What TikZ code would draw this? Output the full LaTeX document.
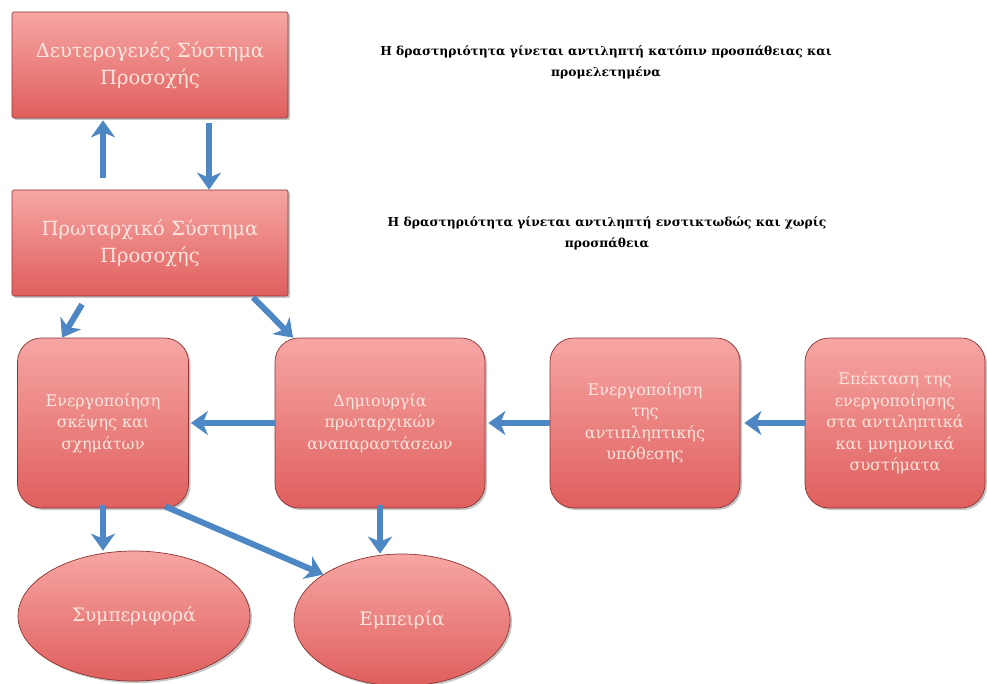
\documentclass[tikz,border=0pt]{standalone}
\usepackage{fontspec}
\setmainfont{DejaVu Serif}
\usetikzlibrary{arrows.meta,shapes.geometric,shadows}

\definecolor{boxtop}{HTML}{F6A6A4}
\definecolor{boxbottom}{HTML}{DF5F5D}
\definecolor{boxedge}{HTML}{8A3434}
\definecolor{boxtext}{HTML}{FCE6DE}
\definecolor{flow}{HTML}{4D87C4}

\begin{document}
\begin{tikzpicture}[
  x=1pt, y=-1pt,
  line cap=round, line join=round,
  every node/.style={inner sep=2pt},
  block/.style={draw=boxedge, line width=0.7pt, top color=boxtop, bottom color=boxbottom,
    text=boxtext, align=center, drop shadow={shadow xshift=2pt, shadow yshift=-2pt, opacity=0.45}},
  system/.style={block, rectangle, rounded corners=1.5pt, minimum width=276pt, minimum height=106pt,
    font=\fontsize{19.5}{27}\selectfont},
  stage/.style={block, rectangle, rounded corners=24pt, minimum height=170pt,
    font=\fontsize{16}{21.5}\selectfont},
  outcome/.style={block, ellipse, inner sep=0pt, font=\fontsize{18.5}{24}\selectfont},
  note/.style={align=center, font=\fontsize{12.3}{21}\selectfont\bfseries},
  flow/.style={draw=flow, line width=6pt, line cap=butt, -{Stealth[length=17pt,width=24pt,inset=5pt]}},
]
\useasboundingbox (0,0) rectangle (987,684);
% attention systems
\node[system] (sec) at (150,65) {Δευτερογενές Σύστημα\\Προσοχής};
\node[system] (prim) at (150,243) {Πρωταρχικό Σύστημα\\Προσοχής};
\node[note] (effort) at (606,62) {Η δραστηριότητα γίνεται αντιληπτή κατόπιν προσπάθειας και\\προμελετημένα};
\node[note] (instinct) at (607,233) {Η δραστηριότητα γίνεται αντιληπτή ενστικτωδώς και χωρίς\\προσπάθεια};
% processing stages
\node[stage, minimum width=171pt] (think) at (103,423) {Ενεργοποίηση\\σκέψης και\\σχημάτων};
\node[stage, minimum width=210pt] (repr) at (380,423) {Δημιουργία\\πρωταρχικών\\αναπαραστάσεων};
\node[stage, minimum width=190pt] (hyp) at (645,423) {Ενεργοποίηση\\της\\αντιπληπτικής\\υπόθεσης};
\node[stage, minimum width=180pt] (ext) at (895,423) {Επέκταση της\\ενεργοποίησης\\στα αντιληπτικά\\και μνημονικά\\συστήματα};
% outcomes
\node[outcome, minimum width=232pt, minimum height=130pt] (beh) at (134,616) {Συμπεριφορά};
\node[outcome, minimum width=216pt, minimum height=132pt] (exp) at (402,620) {Εμπειρία};
% connectors
\draw[flow] ([xshift=-47pt,yshift=12pt]prim.north) -- ([xshift=-47pt,yshift=-2pt]sec.south);
\draw[flow] ([xshift=59pt,yshift=-5pt]sec.south) -- ([xshift=59pt]prim.north);
\draw[flow] ([xshift=-68pt,yshift=-8pt]prim.south) -- ([xshift=-41pt]think.north);
\draw[flow] ([xshift=103pt,yshift=-1pt]prim.south) -- ([xshift=-87pt]repr.north);
\draw[flow] (repr.west) -- ([xshift=2pt]think.east);
\draw[flow] (hyp.west) -- ([xshift=3pt]repr.east);
\draw[flow] (ext.west) -- ([xshift=4pt]hyp.east);
\draw[flow] ([yshift=3pt]think.south) -- (think.south |- beh.north);
\draw[flow] ([xshift=62pt,yshift=2pt]think.south) -- (exp.150);
\draw[flow] ([yshift=3pt]repr.south) -- (repr.south |- exp.north);
\end{tikzpicture}
\end{document}
